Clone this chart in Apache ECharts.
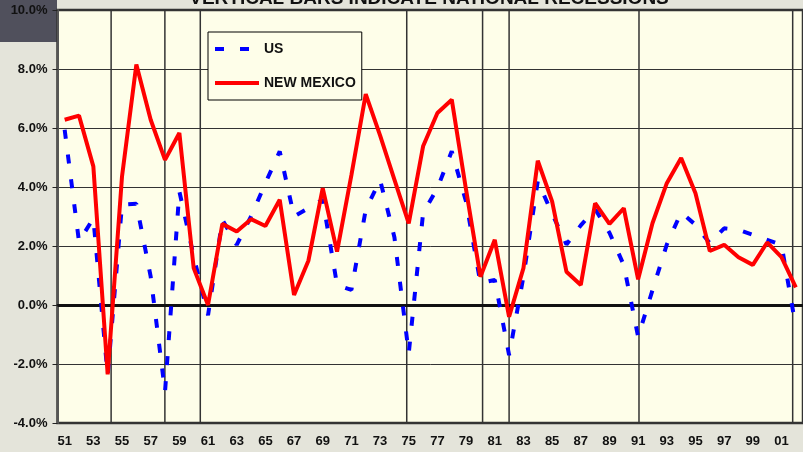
<!DOCTYPE html>
<html>
<head>
<meta charset="utf-8">
<script src="https://cdn.jsdelivr.net/npm/echarts@6/dist/echarts.min.js"></script>
<style>
  html, body { margin: 0; padding: 0; background: #E4E4DA; }
  #chart { width: 803px; height: 452px; }
</style>
</head>
<body>
<div id="chart"></div>
<script>
// years 1951 - 2002, labels shown every other year
const years = ['51','52','53','54','55','56','57','58','59','60',
    '61','62','63','64','65','66','67','68','69','70',
    '71','72','73','74','75','76','77','78','79','80',
    '81','82','83','84','85','86','87','88','89','90',
    '91','92','93','94','95','96','97','98','99','00',
    '01','02'];

const usGrowth = [5.94, 2.15, 2.94, -2.38, 3.40, 3.43, 0.96, -2.94, 3.85, 1.65,
    -0.35, 2.89, 2.04, 3.00, 4.13, 5.21, 3.00, 3.28, 3.57, 0.68,
    0.51, 3.23, 4.24, 2.30, -1.64, 3.11, 3.96, 5.21, 3.50, 0.74,
    0.85, -1.70, 0.96, 4.20, 3.10, 2.05, 2.70, 3.25, 2.45, 1.35,
    -1.08, 0.50, 2.05, 3.14, 2.72, 2.09, 2.60, 2.55, 2.38, 2.21,
    2.04, -0.75];

const nmGrowth = [6.28, 6.42, 4.70, -2.35, 4.36, 8.15, 6.28, 4.92, 5.83, 1.25,
    0.00, 2.75, 2.49, 2.91, 2.68, 3.57, 0.34, 1.50, 3.96, 1.81,
    4.40, 7.15, 5.75, 4.25, 2.77, 5.38, 6.51, 6.96, 3.90, 0.96,
    2.21, -0.40, 1.25, 4.89, 3.51, 1.13, 0.68, 3.45, 2.75, 3.28,
    0.87, 2.77, 4.13, 4.98, 3.79, 1.83, 2.04, 1.62, 1.36, 2.12,
    1.62, 0.60];

// national recessions, as positions on a year scale (1951 = left edge)
const recessionMarks = [1954.74, 1958.49, 1960.96, 1975.36, 1980.65, 1982.50, 1991.56, 2002.28];

const yMin = -4;
const yMax = 10;
const yStep = 2;

const chart = echarts.init(document.getElementById('chart'));
const font = '"Liberation Sans", Arial, sans-serif';

const option = {
    backgroundColor: '#E4E4DA',
    animation: false,
    graphic: [
        {
            type: 'rect', z: -10, silent: true,
            shape: { x: 0, y: 0, width: 57, height: 42 },
            style: { fill: '#50505c' }
        },
        {
            type: 'text', x: 429, y: 8, silent: true,
            style: {
                text: 'VERTICAL BARS INDICATE NATIONAL RECESSIONS',
                font: 'bold 19px ' + font,
                fill: '#111',
                align: 'center',
                verticalAlign: 'bottom'
            }
        }
    ],
    legend: {
        data: ['US', 'NEW MEXICO'],
        orient: 'vertical',
        left: 208,
        top: 32,
        itemWidth: 44,
        itemHeight: 14,
        itemGap: 20,
        padding: [10, 6, 10, 5],
        backgroundColor: '#FEFEE9',
        borderColor: '#000',
        borderWidth: 1,
        itemStyle: { opacity: 0 },
        lineStyle: { width: 4 },
        textStyle: { fontFamily: font, fontWeight: 'bold', fontSize: 14, color: '#111' }
    },
    grid: {
        left: 57.5,
        top: 10,
        width: 751,
        height: 413,
        show: true,
        backgroundColor: '#FEFEE9',
        borderColor: '#333',
        borderWidth: 2.5
    },
    xAxis: [
        {
            type: 'category',
            data: years,
            boundaryGap: true,
            axisLine: { lineStyle: { color: '#222', width: 2 } },
            axisTick: { interval: 0, length: 4, lineStyle: { color: '#222' } },
            axisLabel: {
                interval: 1,
                margin: 12,
                fontFamily: font,
                fontWeight: 'bold',
                fontSize: 13,
                color: '#111'
            },
            splitLine: { show: false }
        },
        {
            type: 'value',
            min: 1951,
            max: 2003,
            show: false
        }
    ],
    yAxis: {
        type: 'value',
        min: yMin,
        max: yMax,
        interval: yStep,
        axisLine: { show: true, lineStyle: { color: '#555', width: 2 } },
        axisTick: { show: true, length: 5, lineStyle: { color: '#222' } },
        axisLabel: {
            margin: 10,
            fontFamily: font,
            fontWeight: 'bold',
            fontSize: 13,
            color: '#111',
            formatter: (v) => v.toFixed(1) + '%'
        },
        splitLine: { lineStyle: { color: '#333', width: 1 } }
    },
    series: [
        {
            name: 'recessions',
            type: 'custom',
            xAxisIndex: 1,
            yAxisIndex: 0,
            silent: true,
            z: 1,
            data: recessionMarks.map(v => [v]),
            renderItem: (params, api) => {
                const top = api.coord([api.value(0), yMax]);
                const bottom = api.coord([api.value(0), yMin]);
                return {
                    type: 'line',
                    shape: { x1: top[0], y1: top[1], x2: bottom[0], y2: bottom[1] },
                    style: { stroke: '#333', lineWidth: 1.5 }
                };
            }
        },
        {
            name: 'US',
            type: 'line',
            data: usGrowth,
            symbol: 'none',
            z: 3,
            lineStyle: { color: '#0000FF', width: 4, type: [9, 16], cap: 'butt' },
            itemStyle: { color: '#0000FF' }
        },
        {
            name: 'NEW MEXICO',
            type: 'line',
            data: nmGrowth,
            symbol: 'none',
            z: 4,
            lineStyle: { color: '#FF0000', width: 4 },
            itemStyle: { color: '#FF0000' },
            markLine: {
                silent: true,
                symbol: 'none',
                label: { show: false },
                lineStyle: { color: '#111', width: 3, type: 'solid' },
                data: [{ yAxis: 0 }],
                z: 2
            }
        }
    ]
};

chart.setOption(option);
</script>
</body>
</html>
